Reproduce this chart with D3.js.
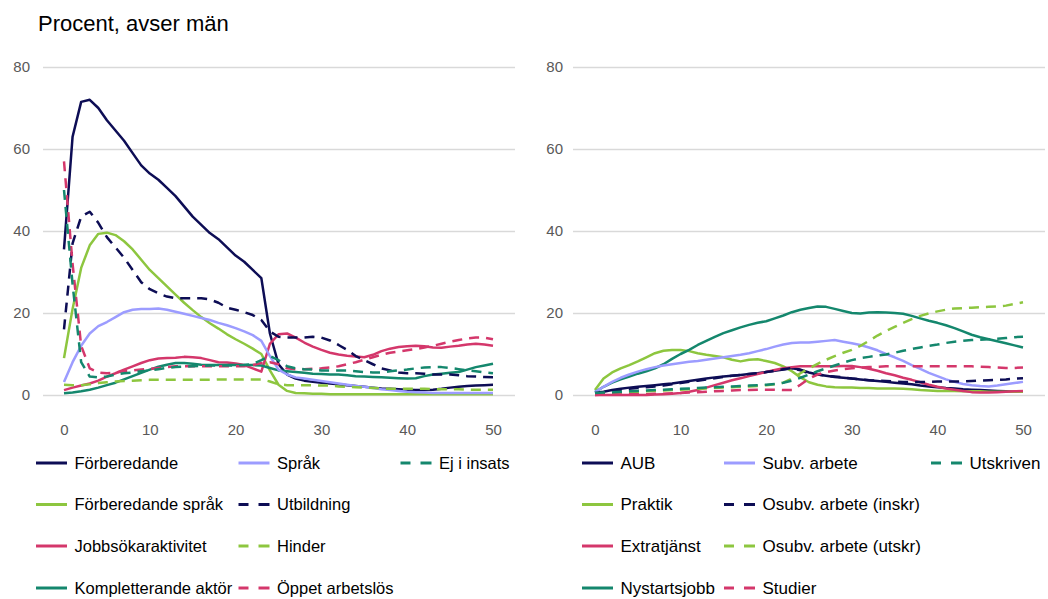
<!DOCTYPE html>
<html><head><meta charset="utf-8">
<script src="https://cdn.jsdelivr.net/npm/d3@7"></script>
<style>body{margin:0;background:#fff}svg{display:block;font-family:"Liberation Sans",Arial,sans-serif}</style>
</head><body><svg id="c" width="1048" height="599"></svg>
<script>
const title = "Procent, avser män";
const yTicks = [0, 20, 40, 60, 80];
const xTicks = [0, 10, 20, 30, 40, 50];

// Left panel series (x = 0..50)
const forberedande = [35.5,63,71.5,72,70,67,64.5,62,59,56,54,52.5,50.5,48.5,46,43.5,41.5,39.5,38,36,34,32.5,30.5,28.5,15,7.5,5,4,3.5,3.2,3,2.8,2.6,2.4,2.2,2,1.8,1.6,1.5,1.4,1.3,1.2,1.2,1.3,1.5,1.8,2,2.2,2.3,2.4,2.5];
const sprak = [3.2,8,12,15,16.8,17.8,19,20.2,20.8,21,21,21.1,20.8,20.3,19.8,19.3,18.8,18.3,17.6,17,16.3,15.5,14.6,13.2,9.5,6.2,5,4.3,4,3.7,3.4,3.1,2.8,2.5,2.2,2,1.7,1.4,1.2,1,0.8,0.7,0.6,0.5,0.5,0.5,0.5,0.5,0.5,0.5,0.5];
const ejIInsats = [50,27,8,4.5,4.3,4.5,5,5.3,5.5,5.8,6,6.3,6.6,6.8,6.9,7,7.1,7.2,7.2,7.2,7.2,7.3,7.6,8.5,9.5,8.5,7,6.5,6.3,6.2,6,6,6,6,5.8,5.6,5.5,5.5,5.8,6,6.2,6.5,6.7,6.8,6.8,6.6,6.3,6,5.8,5.5,5.3];
const forbSprak = [9,21,31,36.5,39.3,39.6,39,37.5,35.5,33,30.5,28.5,26.5,24.5,22.5,20.7,19,17.5,16.2,14.8,13.6,12.5,11.3,10,6,2.5,1,0.5,0.4,0.3,0.3,0.2,0.2,0.2,0.2,0.2,0.2,0.2,0.2,0.2,0.2,0.2,0.2,0.2,0.2,0.2,0.2,0.2,0.2,0.2,0.2];
const utbildning = [16,37,43.5,44.7,42,38.5,36,33.5,30.5,27.5,25.8,24.8,24,23.6,23.6,23.6,23.6,23.3,22.5,21.3,20.8,20.2,19.5,18.3,15.5,14.2,14,14,14,14.2,14,13.3,12.2,11,9.5,8.5,7.5,6.5,6,5.5,5.3,5.3,5.2,5,5,5,4.8,4.6,4.5,4.4,4.3];
const jobbsok = [1.2,1.8,2.3,2.8,3.5,4.5,5.3,6.2,7,7.8,8.5,8.9,9,9.1,9.3,9.2,9,8.5,8,7.9,7.7,7.3,6.5,5.7,12.5,14.8,15,14,12.8,11.8,11,10.3,9.9,9.6,9.4,9.2,9.8,10.7,11.3,11.7,11.9,12,11.9,11.6,11.5,11.8,12,12.3,12.5,12.3,12];
const hinder = [2.5,2.4,2.4,2.6,2.9,3.1,3.3,3.4,3.5,3.6,3.7,3.7,3.7,3.7,3.7,3.7,3.7,3.7,3.8,3.8,3.8,3.8,3.8,3.8,3.3,2.6,2.4,2.4,2.4,2.4,2.3,2.3,2.1,2,1.9,1.8,1.7,1.6,1.5,1.5,1.5,1.5,1.5,1.4,1.4,1.4,1.4,1.3,1.3,1.3,1.3];
const kompletterande = [0.4,0.6,0.9,1.3,1.8,2.4,3,3.8,4.6,5.4,6.2,6.9,7.4,7.8,7.8,7.6,7.4,7.3,7.3,7.3,7.3,7.3,7.3,7.2,6.6,6,5.8,5.6,5.4,5.2,5.1,5,5,4.8,4.6,4.5,4.4,4.3,4.2,4.1,4,4.1,4.6,5,5.2,5.4,5.6,6.2,6.8,7.2,7.6];
const oppet = [57,32,12,6.5,5.5,5.3,5.5,5.8,6,6.2,6.4,6.6,6.8,7,7,7,7,7,7,7,7,7,7.3,7.8,8,7.5,6.5,6.3,6.3,6.4,6.5,6.7,7,7.5,8,8.6,9.2,9.8,10.3,10.6,10.9,11.2,11.6,12,12.5,13,13.4,13.8,14,14,13.6];

// Right panel series (x = 0..50)
const aub = [0.5,0.8,1.2,1.5,1.8,2,2.2,2.4,2.6,2.8,3.1,3.4,3.7,4,4.3,4.5,4.7,4.9,5.1,5.3,5.6,5.9,6.2,6.5,6.2,5.5,5,4.7,4.4,4.2,4,3.8,3.6,3.4,3.2,3,2.8,2.6,2.3,2.1,1.9,1.7,1.6,1.4,1.3,1.2,1.1,1,0.9,0.8,0.8];
const subvArbete = [0.7,2,3.2,4.2,5,5.7,6.3,6.8,7.2,7.5,7.8,8.1,8.3,8.6,8.9,9.2,9.5,9.8,10.2,10.7,11.2,11.8,12.3,12.7,12.8,12.8,13,13.2,13.4,13,12.6,12.2,11.6,10.9,10,9.2,8.3,7.3,6.4,5.4,4.6,3.8,3.2,2.7,2.4,2.2,2.1,2.3,2.6,2.9,3.2];
const utskriven = [0.5,0.6,0.7,0.8,0.9,1,1.1,1.2,1.3,1.4,1.5,1.6,1.7,1.8,1.9,2,2.1,2.2,2.3,2.4,2.5,2.7,3,3.5,4.2,5,5.8,6.5,7.2,7.9,8.5,9,9.3,9.6,9.9,10.3,10.8,11.2,11.6,12,12.3,12.7,13,13.2,13.4,13.5,13.6,13.7,13.9,14.1,14.2];
const praktik = [1.2,4,5.5,6.5,7.3,8.2,9.2,10.2,10.8,11,11,10.7,10.2,9.8,9.5,9.2,8.6,8.2,8.6,8.7,8.3,7.8,7,5.8,4.3,3.1,2.5,2.1,1.9,1.8,1.8,1.7,1.7,1.6,1.6,1.6,1.5,1.4,1.2,1.1,1,1,1,0.9,0.9,0.9,0.8,0.8,0.8,0.8,0.8];
const osubvInskr = [0.5,0.7,1,1.3,1.5,1.7,1.9,2.1,2.3,2.6,2.9,3.2,3.5,3.8,4.1,4.4,4.7,4.9,5.1,5.3,5.6,5.9,6.3,6.6,6,5.3,5,4.7,4.5,4.3,4,3.8,3.6,3.5,3.4,3.3,3.2,3.2,3.2,3.2,3.3,3.3,3.3,3.3,3.4,3.5,3.6,3.7,3.8,4,4.1];
const extratjanst = [0,0,0,0,0,0,0,0.1,0.2,0.3,0.5,0.8,1.2,1.8,2.4,3,3.6,4.1,4.6,5.1,5.6,6.1,6.5,6.8,7,7,7,7,7,7.1,7.1,6.8,6.4,5.9,5.3,4.8,4.2,3.7,3.1,2.5,2,1.6,1.3,1,0.7,0.6,0.6,0.7,0.8,0.9,1];
const osubvUtskr = [0.3,0.4,0.5,0.6,0.7,0.8,0.9,1,1.1,1.2,1.3,1.4,1.5,1.6,1.7,1.8,1.9,2,2.1,2.2,2.4,2.6,3,4,5.3,6.5,7.6,8.6,9.5,10.3,11,12,13.2,14.5,15.6,16.6,17.6,18.5,19.3,19.9,20.4,20.8,21.1,21.2,21.3,21.4,21.5,21.6,21.8,22.2,22.6];
const nystartsjobb = [0.7,2,3,3.8,4.5,5.2,5.8,6.5,7.5,8.8,10,11,12.2,13.2,14.2,15.1,15.8,16.5,17.1,17.6,18,18.7,19.4,20.2,20.8,21.2,21.6,21.5,21,20.5,20,19.9,20.1,20.2,20.1,20,19.8,19.3,18.7,18.1,17.6,17,16.3,15.5,14.7,14.1,13.6,13.1,12.6,12.1,11.6];
const studier = [0,0.1,0.1,0.1,0.2,0.2,0.2,0.3,0.3,0.4,0.5,0.6,0.7,0.8,0.9,1,1.1,1.2,1.2,1.3,1.3,1.3,1.2,1.2,2.5,4,5,5.6,6,6.3,6.5,6.7,6.8,6.9,7,7,7,7,7,7,7,7,7,7,7,6.9,6.8,6.7,6.6,6.6,6.7];

const C = {navy:"#0d0d55", lav:"#9c9cff", teal:"#14876d", green:"#8dc63f", pink:"#d4376b"};

const leftSeries = [
  {name:"Förberedande", v:forberedande, c:C.navy, d:false, col:0,row:0},
  {name:"Förberedande språk", v:forbSprak, c:C.green, d:false, col:0,row:1},
  {name:"Jobbsökaraktivitet", v:jobbsok, c:C.pink, d:false, col:0,row:2},
  {name:"Kompletterande aktör", v:kompletterande, c:C.teal, d:false, col:0,row:3},
  {name:"Språk", v:sprak, c:C.lav, d:false, col:1,row:0},
  {name:"Utbildning", v:utbildning, c:C.navy, d:true, col:1,row:1},
  {name:"Hinder", v:hinder, c:C.green, d:true, col:1,row:2},
  {name:"Öppet arbetslös", v:oppet, c:C.pink, d:true, col:1,row:3},
  {name:"Ej i insats", v:ejIInsats, c:C.teal, d:true, col:2,row:0}
];
const rightSeries = [
  {name:"AUB", v:aub, c:C.navy, d:false, col:0,row:0},
  {name:"Praktik", v:praktik, c:C.green, d:false, col:0,row:1},
  {name:"Extratjänst", v:extratjanst, c:C.pink, d:false, col:0,row:2},
  {name:"Nystartsjobb", v:nystartsjobb, c:C.teal, d:false, col:0,row:3},
  {name:"Subv. arbete", v:subvArbete, c:C.lav, d:false, col:1,row:0},
  {name:"Osubv. arbete (inskr)", v:osubvInskr, c:C.navy, d:true, col:1,row:1},
  {name:"Osubv. arbete (utskr)", v:osubvUtskr, c:C.green, d:true, col:1,row:2},
  {name:"Studier", v:studier, c:C.pink, d:true, col:1,row:3},
  {name:"Utskriven", v:utskriven, c:C.teal, d:true, col:2,row:0}
];

const svg = d3.select("#c");
svg.append("text").attr("x",38).attr("y",31).attr("font-size",22).attr("fill","#000").text(title);

const y = d3.scaleLinear().domain([0,80]).range([395,67]);

function panel(series, x0, x1, gx0, gx1, labX, legCols, legFont) {
  const x = d3.scaleLinear().domain([0,50]).range([x0,x1]);
  const g = svg.append("g");
  const ya = g.append("g").attr("transform",`translate(${gx0},0)`)
    .call(d3.axisLeft(y).tickValues(yTicks).tickSize(-(gx1-gx0)).tickPadding(labX));
  ya.select(".domain").remove();
  ya.selectAll(".tick line").attr("stroke","#d9d9d9").attr("stroke-width",1.3);
  ya.selectAll(".tick text").attr("font-size",15).attr("fill","#595959").attr("font-family","Liberation Sans, Arial, sans-serif");
  const xa = g.append("g").attr("transform","translate(0,395)")
    .call(d3.axisBottom(x).tickValues(xTicks).tickSize(0).tickPadding(29));
  xa.select(".domain").remove();
  xa.selectAll(".tick text").attr("font-size",15).attr("fill","#595959").attr("font-family","Liberation Sans, Arial, sans-serif");

  const line = d3.line().x((d,i)=>x(i)).y(d=>y(d));
  series.forEach(s=>{
    g.append("path").attr("d",line(s.v)).attr("fill","none").attr("stroke",s.c)
      .attr("stroke-width",2.5).attr("stroke-linejoin","round")
      .attr("stroke-dasharray", s.d ? "10,7" : null);
  });
  const rowsY = [463,504.5,546,588];
  series.forEach(s=>{
    const lx = legCols[s.col], ly = rowsY[s.row];
    if (s.d) {
      g.append("line").attr("x1",lx).attr("x2",lx+10).attr("y1",ly).attr("y2",ly).attr("stroke",s.c).attr("stroke-width",3);
      g.append("line").attr("x1",lx+20).attr("x2",lx+31).attr("y1",ly).attr("y2",ly).attr("stroke",s.c).attr("stroke-width",3);
    } else {
      g.append("line").attr("x1",lx).attr("x2",lx+31).attr("y1",ly).attr("y2",ly).attr("stroke",s.c).attr("stroke-width",3);
    }
    g.append("text").attr("x",lx+38.5).attr("y",ly).attr("dy","0.35em").attr("font-size",legFont).attr("fill","#000").text(s.name);
  });
}

panel(leftSeries, 64, 493, 43, 515, 13, [36, 238.5, 400.5], 16.5);
panel(rightSeries, 595, 1023, 573, 1045, 10, [582, 724, 931], 17);
</script></body></html>
